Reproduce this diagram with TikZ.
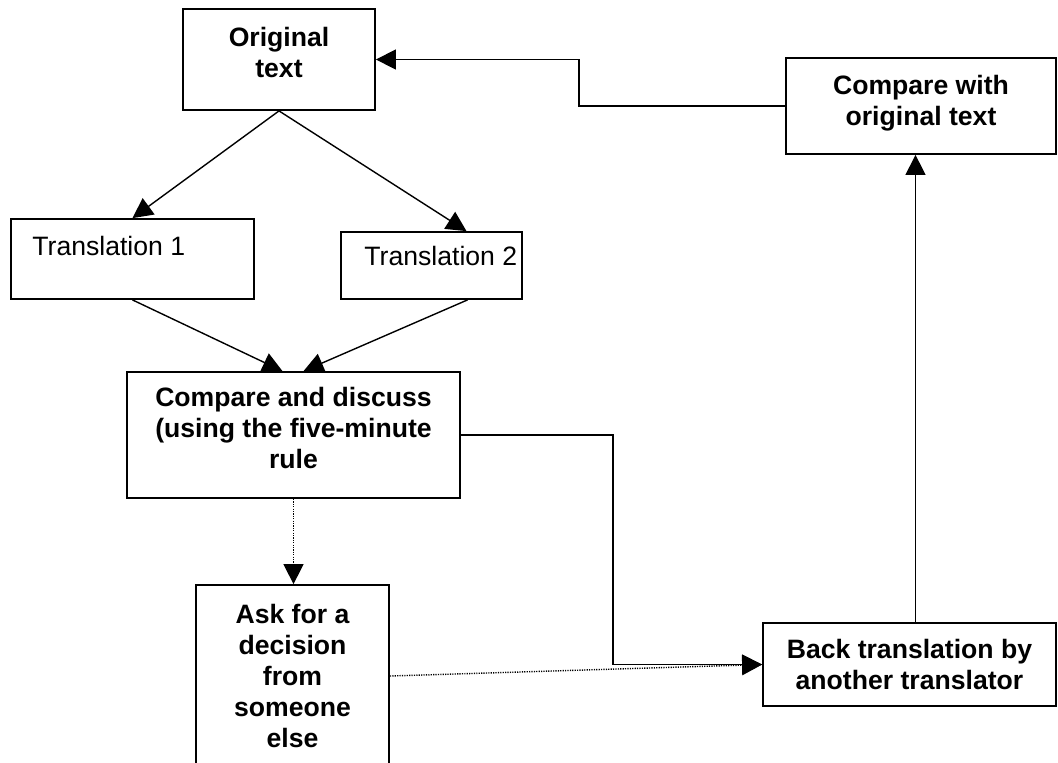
\documentclass[tikz,border=0pt]{standalone}
\usepackage{fontspec}
\setmainfont{Liberation Sans}
\usetikzlibrary{arrows.meta}
\usetikzlibrary{calc}
\usetikzlibrary{positioning}

\begin{document}
\begin{tikzpicture}[
		x=0.5pt,y=-0.5pt,
		>={Triangle[length=10pt,width=10pt]},
		font=\fontsize{13.3}{15.5}\selectfont,
		stepbox/.style={draw,line width=0.9pt,inner sep=0,align=center,font=\fontsize{13.3}{15.5}\selectfont\bfseries},
		plainbox/.style={draw,line width=0.9pt,inner sep=0},
		flow/.style={->,line width=0.7pt},
		hint/.style={->,line width=0.7pt,dash pattern=on 0.6pt off 0.6pt}
	]
	\useasboundingbox (0,0) rectangle (1058,762);

	% boxes
	\node [stepbox,minimum width=96pt,minimum height=50.5pt,text depth=7pt] (orig) at (279,59.5) {Original\\text};
	\node [stepbox,minimum width=135pt,minimum height=48pt,text depth=5.8pt] (cmporig) at (921,106) {Compare with\\original text};
	\node [plainbox,minimum width=121.5pt,minimum height=40pt] (tr1) at (132.5,259) {};
	\node [plainbox,minimum width=90.5pt,minimum height=33.5pt] (tr2) at (431.5,265.5) {};
	\node [anchor=west,inner sep=0] (tr1-text) at (32,246) {Translation 1};
	\node [anchor=west,inner sep=0] (tr2-text) at (364,256) {Translation 2};
	\node [stepbox,minimum width=166.5pt,minimum height=63pt,text depth=7pt] (discuss) at (293.5,435) {Compare and discuss\\(using the five-minute\\rule};
	\node [stepbox,minimum width=96.5pt,minimum height=91pt] (ask) at (292.5,676) {Ask for a\\decision\\from\\someone\\else};
	\node [stepbox,minimum width=146.5pt,minimum height=41.5pt] (back) at (909.5,664.5) {Back translation by\\another translator};

	% connectors
	\draw [flow] (orig.south) -- (tr1.north);
	\draw [flow] (orig.south) -- ($(tr2.north)+(35,0)$);
	\draw [flow] (tr1.south) -- ($(discuss.north)+(-11,0)$);
	\draw [flow] ($(tr2.south)+(36,0)$) -- ($(discuss.north)+(10,0)$);
	\draw [flow] (discuss.east) -- ++(152,0) |- (back.west);
	\draw [hint] (discuss.south) -- (discuss.south |- ask.north);
	\draw [hint] (ask.east) -- (back.west);
	\coordinate (back-up) at ($(back.north)+(6,0)$);
	\draw [flow] (back-up) -- (back-up |- cmporig.south);
	\draw [flow] (cmporig.west) -- ++(-206,0) |- (orig.east);
\end{tikzpicture}
\end{document}
